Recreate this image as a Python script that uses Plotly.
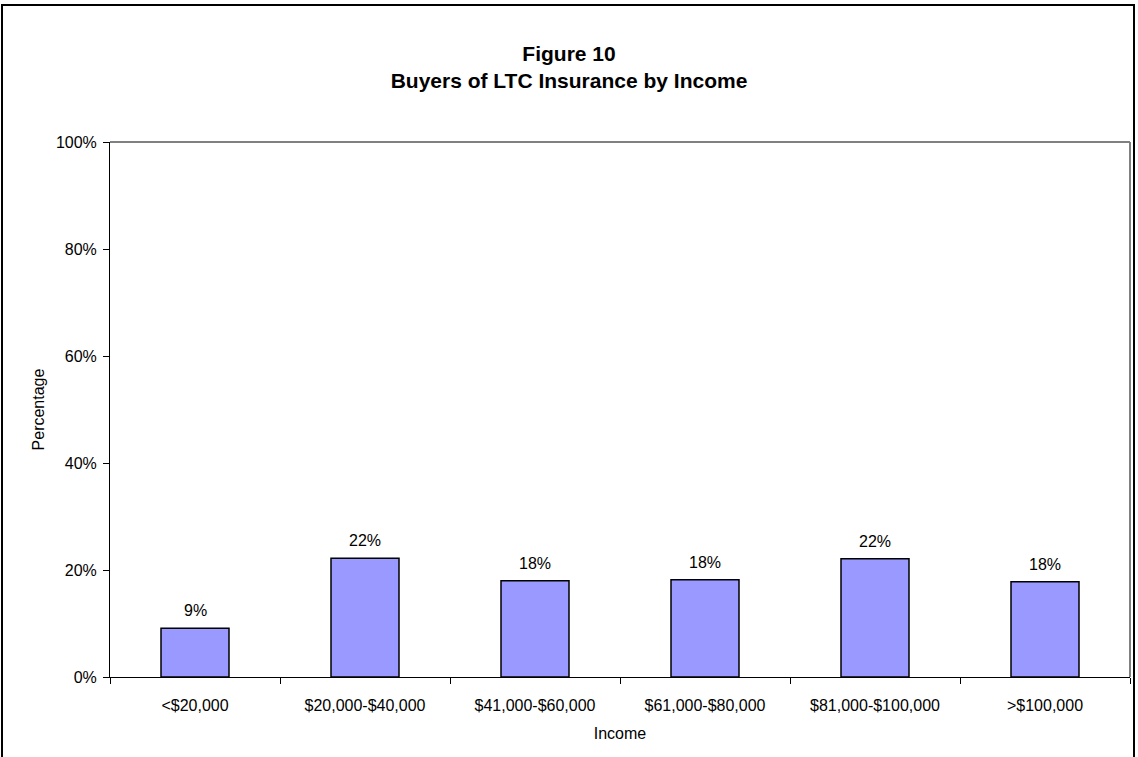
import plotly.graph_objects as go

categories = ["<$20,000", "$20,000-$40,000", "$41,000-$60,000", "$61,000-$80,000", "$81,000-$100,000", ">$100,000"]
values = [9.1, 22.2, 18.0, 18.2, 22.1, 17.8]
labels = ["9%", "22%", "18%", "18%", "22%", "18%"]
ytick_vals = [0, 20, 40, 60, 80, 100]
ytick_text = ["0%", "20%", "40%", "60%", "80%", "100%"]

W, H = 1138, 757
L, R, T, B = 110, 8, 142, 80
pw, ph = W - L - R, H - T - B
FONT = "Liberation Sans, Arial"

fig = go.Figure(go.Bar(
    x=categories, y=values,
    marker=dict(color="#9999FF", line=dict(color="black", width=1.5)),
    width=0.4,
))

for c, v, t in zip(categories, values, labels):
    fig.add_annotation(x=c, y=v, text=t, showarrow=False, yanchor="bottom",
                       yshift=7, font=dict(family=FONT, size=16, color="black"))

def px_x(p):
    return (p - L) / pw

def px_y(p):
    return (H - B - p) / ph

fig.update_layout(
    width=W, height=H,
    margin=dict(l=L, r=R, t=T, b=B),
    paper_bgcolor="white", plot_bgcolor="white",
    showlegend=False,
    font=dict(family=FONT, size=16, color="black"),
    title=dict(
        text="<b>Figure 10</b><br><b>Buyers of LTC Insurance by Income</b>",
        x=0.5, xanchor="center", y=1 - 61 / H, yanchor="middle",
        font=dict(family=FONT, size=21, color="black"),
    ),
    xaxis=dict(
        type="category", showline=True, linecolor="black", linewidth=1,
        ticks="outside", tickson="boundaries", ticklen=6, tickcolor="black",
        showgrid=False, ticklabelstandoff=14,
        title=dict(text="Income", standoff=14, font=dict(size=16)),
        tickfont=dict(size=16),
    ),
    yaxis=dict(
        range=[0, 100], tickvals=ytick_vals, ticktext=ytick_text,
        showline=True, linecolor="black", linewidth=1,
        ticks="outside", ticklen=6, tickcolor="black", showgrid=False,
        zeroline=False, ticklabelstandoff=3,
        title=dict(text="Percentage", standoff=7, font=dict(size=16)),
        tickfont=dict(size=16),
    ),
    shapes=[
        dict(type="line", xref="paper", yref="paper", x0=0, x1=1, y0=1, y1=1,
             line=dict(color="#808080", width=2)),
        dict(type="line", xref="paper", yref="paper", x0=1, x1=1, y0=0, y1=1,
             line=dict(color="#808080", width=2)),
        dict(type="rect", xref="paper", yref="paper",
             x0=px_x(2), x1=px_x(1134), y0=px_y(770), y1=px_y(5),
             line=dict(color="black", width=2), fillcolor="rgba(0,0,0,0)", layer="below"),
    ],
)

fig.write_html("out.html")
